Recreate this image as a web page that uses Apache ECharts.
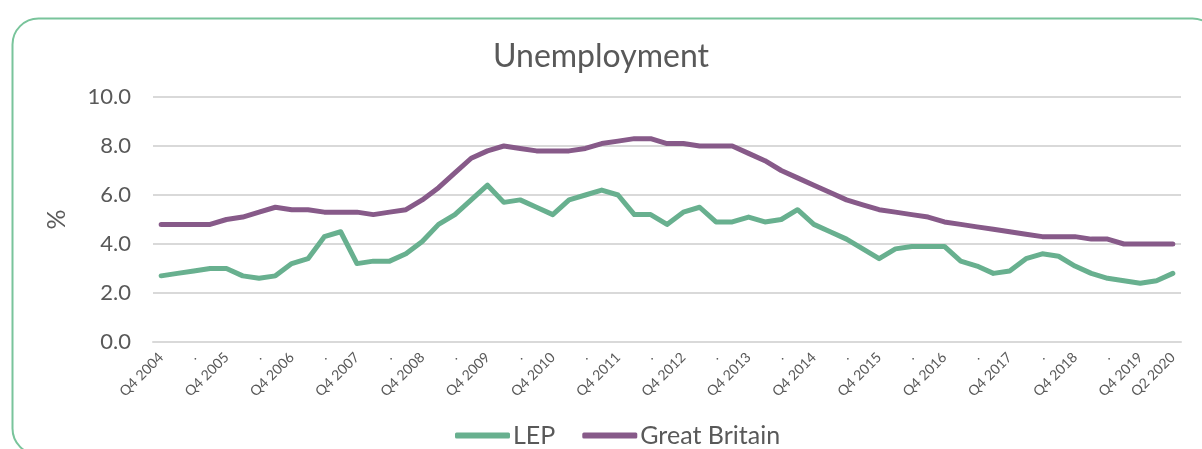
<!DOCTYPE html>
<html><head><meta charset="utf-8">
<script src="https://cdn.jsdelivr.net/npm/echarts@6/dist/echarts.min.js"></script>
<style>html,body{margin:0;padding:0;background:#fff}#c{width:1202px;height:449px}</style>
</head><body><div id="c"></div>
<script>
const categories = (function(){
  const out = ['Q4 2004'];
  for (let y = 2005; y <= 2020; y++) {
    for (let q = 1; q <= 4; q++) {
      if (y === 2020 && q > 2) break;
      out.push('Q' + q + ' ' + y);
    }
  }
  return out;
})();
const lep = [2.7,2.8,2.9,3.0,3.0,2.7,2.6,2.7,3.2,3.4,4.3,4.5,3.2,3.3,3.3,3.6,4.1,4.8,5.2,5.8,6.4,
  5.7,5.8,5.5,5.2,5.8,6.0,6.2,6.0,5.2,5.2,4.8,5.3,5.5,4.9,4.9,5.1,4.9,5.0,5.4,4.8,4.5,
  4.2,3.8,3.4,3.8,3.9,3.9,3.9,3.3,3.1,2.8,2.9,3.4,3.6,3.5,3.1,2.8,2.6,2.5,2.4,2.5,2.8];
const gb = [4.8,4.8,4.8,4.8,5.0,5.1,5.3,5.5,5.4,5.4,5.3,5.3,5.3,5.2,5.3,5.4,5.8,6.3,6.9,7.5,7.8,
  8.0,7.9,7.8,7.8,7.8,7.9,8.1,8.2,8.3,8.3,8.1,8.1,8.0,8.0,8.0,7.7,7.4,7.0,6.7,6.4,6.1,
  5.8,5.6,5.4,5.3,5.2,5.1,4.9,4.8,4.7,4.6,4.5,4.4,4.3,4.3,4.3,4.2,4.2,4.0,4.0,4.0,4.0];
const yTicks = [0, 2, 4, 6, 8, 10];

const font = 'Lato, "Open Sans", sans-serif';
const chart = echarts.init(document.getElementById('c'));
chart.setOption({
  animation: false,
  title: { text: 'Unemployment', left: 'center', top: 36,
    textStyle: { fontFamily: font, fontWeight: 'normal', fontSize: 32, color: '#595959' } },
  graphic: [{ type: 'rect', left: 10, top: 16, z: -1,
    shape: { width: 1206, height: 436, r: 26 },
    style: { fill: 'none', stroke: '#79c49b', lineWidth: 2 } }],
  grid: { left: 153, right: 21, top: 97, bottom: 107 },
  legend: { top: 418, left: 450, itemWidth: 55, itemHeight: 6, itemGap: 27,
    icon: 'roundRect',
    textStyle: { fontFamily: font, fontSize: 25, color: '#595959', padding: [0,0,0,-2] },
    data: ['LEP', 'Great Britain'] },
  xAxis: { type: 'category', data: categories, boundaryGap: true,
    axisLine: { show: true, lineStyle: { color: '#d9d9d9', width: 2 } },
    axisTick: { show: false },
    axisLabel: { interval: 1, rotate: 45, fontFamily: font, fontSize: 14, color: '#595959', margin: 13,
      formatter: function (v, i) {
        if (v.indexOf('Q4') === 0 || i === categories.length - 1) return v;
        return '.';
      } } },
  yAxis: { type: 'value', min: yTicks[0], max: yTicks[yTicks.length-1], interval: 2,
    name: '%', nameLocation: 'middle', nameGap: 84, nameRotate: 90,
    nameTextStyle: { fontFamily: font, fontSize: 25, color: '#595959' },
    axisLine: { show: false }, axisTick: { show: false },
    splitLine: { lineStyle: { color: '#d9d9d9', width: 2 } },
    axisLabel: { fontFamily: font, fontSize: 22, color: '#595959', margin: 22,
      formatter: v => v.toFixed(1) } },
  series: [
    { name: 'LEP', type: 'line', data: lep, symbol: 'none', color: '#68b08f',
      lineStyle: { width: 5, color: '#68b08f', cap: 'round', join: 'round' } },
    { name: 'Great Britain', type: 'line', data: gb, symbol: 'none', color: '#875a89',
      lineStyle: { width: 5, color: '#875a89', cap: 'round', join: 'round' } }
  ]
});
</script></body></html>
